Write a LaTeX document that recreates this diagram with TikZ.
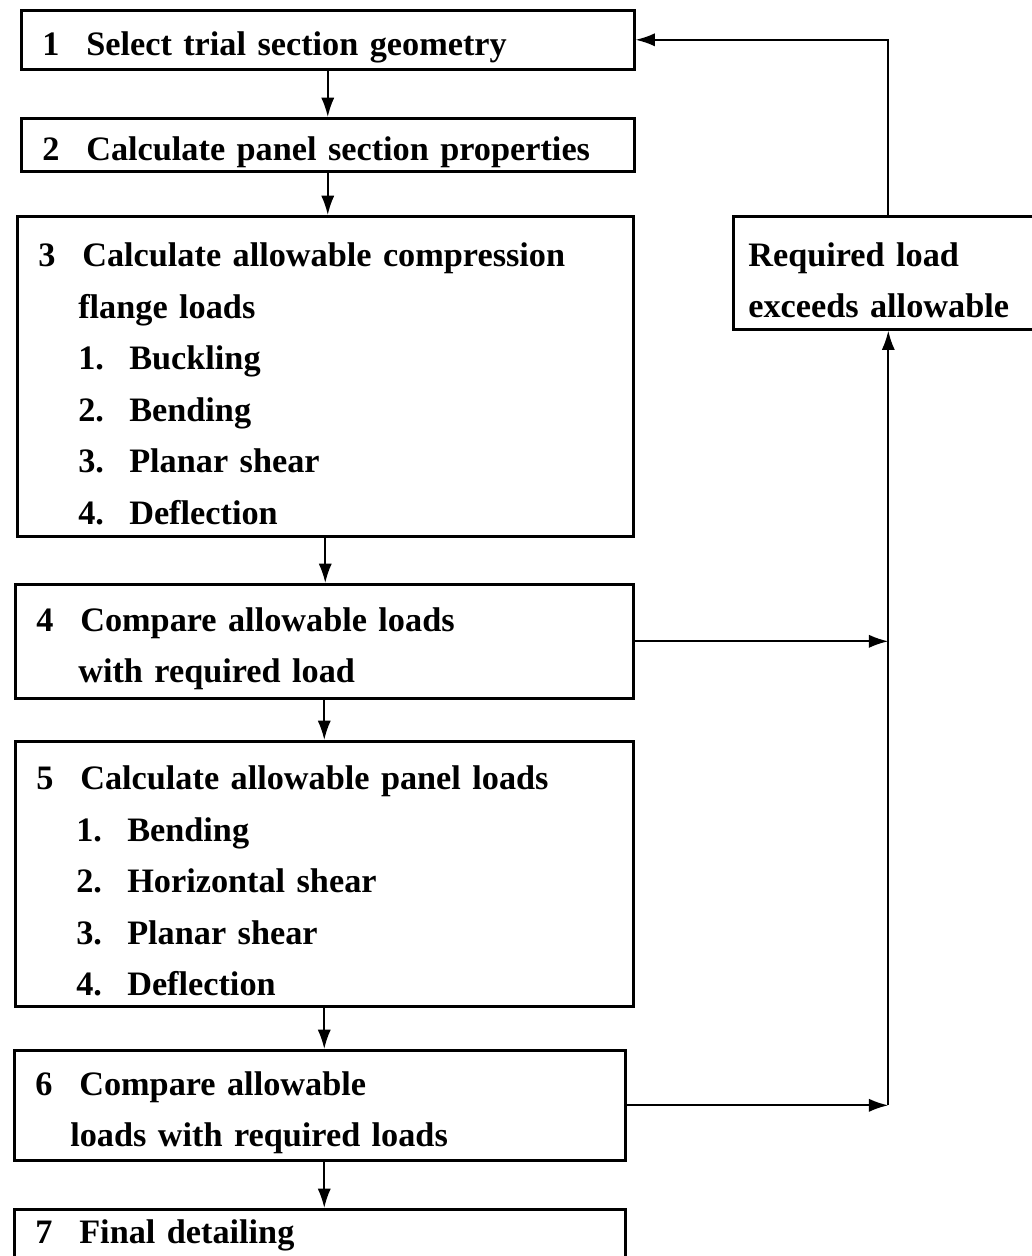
\documentclass[tikz,border=0pt]{standalone}
\usepackage{fontspec}
\setmainfont{Liberation Serif}
\usetikzlibrary{arrows.meta}
\newcommand{\alto}{\rule{0pt}{22pt}}
\newcommand{\numero}[1]{\makebox[0.88cm][l]{#1}}
\newcommand{\stepno}[1]{\alto\numero{#1}}
\newcommand{\substep}[2]{\hspace*{0.8cm}\makebox[1.02cm][l]{#1}#2}
\tikzset{
    blocco/.style={draw,line width=1.5pt,rectangle,anchor=north west,inner xsep=0.42cm,inner ysep=0pt,align=left,font=\fontsize{19.5}{29.3}\selectfont\bfseries},
    freccia/.style={line width=1.1pt,-{Latex[length=11pt,width=7.5pt]}}
}
\begin{document}
\begin{tikzpicture}[x=0.02cm,y=-0.02cm]
    \useasboundingbox (0,0) rectangle (1031,1256);
    %blocchi
    \node[blocco,text width=11.42cm,minimum height=1.18cm] (b1) at (20,9) {\stepno{1}Select trial section geometry};
    \node[blocco,text width=11.42cm,minimum height=1.06cm] (b2) at (20,117) {\stepno{2}Calculate panel section properties};
    \node[blocco,text width=11.48cm,minimum height=6.4cm] (b3) at (16,215) {\stepno{3}Calculate allowable compression\\
        \hspace*{0.8cm}flange loads\\
        \substep{1.}{Buckling}\\
        \substep{2.}{Bending}\\
        \substep{3.}{Planar shear}\\
        \substep{4.}{Deflection}};
    \node[blocco,text width=11.52cm,minimum height=2.28cm] (b4) at (14,583) {\stepno{4}Compare allowable loads\\
        \hspace*{0.84cm}with required load};
    \node[blocco,text width=11.52cm,minimum height=5.3cm] (b5) at (14,740) {\stepno{5}Calculate allowable panel loads\\
        \substep{1.}{Bending}\\
        \substep{2.}{Horizontal shear}\\
        \substep{3.}{Planar shear}\\
        \substep{4.}{Deflection}};
    \node[blocco,text width=11.38cm,minimum height=2.2cm] (b6) at (13,1049) {\stepno{6}Compare allowable\\
        \hspace*{0.7cm}loads with required loads};
    \node[blocco,text width=11.38cm,minimum height=1.04cm] (b7) at (13,1208) {\numero{7}Final detailing};
    \node[blocco,inner xsep=0.3cm,text width=5.6cm,minimum height=2.26cm] (r) at (732,215) {\alto Required load\\exceeds allowable};

    %frecce
    \draw[freccia] (b1.south) -- (b1.south |- b2.north);
    \draw[freccia] (b2.south) -- (b2.south |- b3.north);
    \draw[freccia] (b3.south) -- (b3.south |- b4.north);
    \draw[freccia] (b4.south) -- (b4.south |- b5.north);
    \draw[freccia] (b5.south) -- (b5.south |- b6.north);
    \draw[freccia] (b5.south |- b6.south) -- (b5.south |- b7.north);

    %ritorno
    \coordinate (nodo) at (b6.east -| r.south);
    \draw[freccia] (b4.east) -- (b4.east -| r.south);
    \draw[freccia] (b6.east) -- (nodo);
    \draw[freccia] (nodo) -- (r.south);
    \draw[freccia] (r.north) |- (b1.east);
\end{tikzpicture}
\end{document}
